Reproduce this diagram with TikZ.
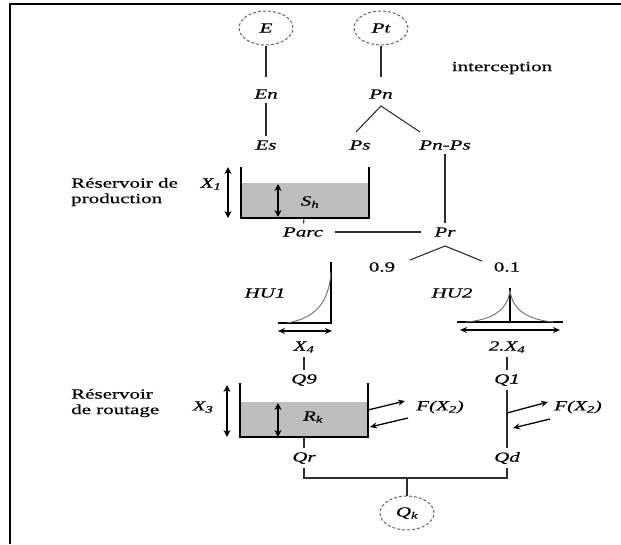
\documentclass[tikz,border=0pt]{standalone}
\usepackage{fontspec}
\setmainfont{Liberation Serif}[FakeStretch=1.5,FakeBold=0.5]
\usetikzlibrary{shapes.geometric,arrows.meta}
\definecolor{resgray}{RGB}{190,190,190}
\definecolor{linecol}{RGB}{45,45,45}
\definecolor{curvecol}{RGB}{110,110,110}
\begin{document}
\begin{tikzpicture}[x=1pt,y=-1pt,
  lbl/.style={font=\itshape\fontsize{14}{16}\selectfont, inner sep=1pt, outer sep=3pt},
  rom/.style={font=\fontsize{14}{15}\selectfont, inner sep=1pt, outer sep=3pt},
  side/.style={font=\fontsize{14}{15.5}\selectfont, align=left, inner sep=0pt, anchor=west},
  conn/.style={draw=linecol, line width=1.1pt},
  wall/.style={draw=black, line width=1.4pt},
  dbl/.style={{Stealth[length=7pt,width=7pt]}-{Stealth[length=7pt,width=7pt]}, line width=1.8pt},
  dblh/.style={{Stealth[length=7pt,width=6pt]}-{Stealth[length=7pt,width=6pt]}, line width=1.4pt},
  flux/.style={-{Stealth[length=7pt,width=6pt]}, line width=1.3pt},
  oval/.style={ellipse, draw=black!60, dash pattern=on 3pt off 2pt, line width=1pt, minimum width=54pt, minimum height=34pt, inner sep=0pt, font=\itshape\fontsize{14}{15}\selectfont},
  hcurve/.style={draw=curvecol, line width=0.9pt}]

\useasboundingbox (0,0) rectangle (621,544);
\draw[line width=2pt] (10,544) -- (10,4) -- (621,4);

% top part
\node[oval] (E) at (266,28) {E};
\node[oval] (Pt) at (381,28) {Pt};
\node[rom] (interc) at (502,68) {interception};
\node[lbl] (En) at (266,94) {En};
\node[lbl] (Es) at (266,145) {Es};
\node[lbl] (Pn) at (381,94) {Pn};
\node[lbl] (Ps) at (360,145) {Ps};
\node[lbl] (PnPs) at (445,145) {Pn-Ps};
\draw[conn, shorten >=8pt] (E) -- (En);
\draw[conn, shorten >=8pt] (Pt) -- (Pn);
\draw[conn] (En) -- (Es);
\coordinate (pnf) at (381,106);
\coordinate (pnl) at (356,132);
\coordinate (pnr) at (420,132);
\draw[conn] (pnl) -- (pnf) -- (pnr);

% production reservoir
\fill[resgray] (241,183) rectangle (369,218);
\draw[wall] (241,167) -- (241,218) -- (369,218) -- (369,167);
\draw[dbl] (228,167) -- (228,218);
\draw[dbl] (278,184) -- (278,217);
\node[lbl] (X1) at (211,184) {X\textsubscript{1}};
\node[lbl] (Sh) at (310,202) {S\textsubscript{h}};
\node[side] (rp) at (71,192) {Réservoir de\\production};
\node[lbl] (Parc) at (303,232) {Parc};
\coordinate (pb) at (304,218);
\draw[conn] (pb) -- (Parc);
\node[lbl] (Pr) at (445,232) {Pr};
\draw[conn, shorten <=8pt, shorten >=10pt] (Parc) -- (Pr);
\draw[conn] (PnPs) -- (Pr);
\coordinate (prf) at (445,246);
\coordinate (prl) at (410,260);
\coordinate (prr) at (482,261);
\draw[conn] (prl) -- (prf) -- (prr);
\node[rom] (n09) at (382,267) {0.9};
\node[rom] (n01) at (507,267) {0.1};

% HU1
\node[lbl] (HU1) at (265,293) {HU1};
\draw[wall] (331,262) -- (331,323) -- (278,323);
\draw[hcurve] (287,323) .. controls (316,318) and (329,302) .. (331,272);
\draw[dblh] (278,331) -- (332,331);
\node[lbl] (X4) at (304,347) {X\textsubscript{4}};

% HU2
\node[lbl] (HU2) at (452,293) {HU2};
\draw[wall] (457,322) -- (563,322);
\draw[wall] (510,288) -- (510,322);
\draw[hcurve] (510,290) .. controls (508,310) and (492,320) .. (466,322);
\draw[hcurve] (510,290) .. controls (512,310) and (528,320) .. (554,322);
\draw[dblh] (460,330) -- (560,330);
\node[lbl] (X42) at (507,347) {2.X\textsubscript{4}};

\node[lbl] (Q9) at (304,380) {Q9};
\node[lbl] (Q1) at (507,380) {Q1};
\draw[conn] (X4) -- (Q9);
\draw[conn] (X42) -- (Q1);

% routing reservoir
\fill[resgray] (240,402) rectangle (368,437);
\draw[wall] (240,383) -- (240,437) -- (368,437) -- (368,383);
\draw[dbl] (227,385) -- (227,437);
\draw[dbl] (278,403) -- (278,437);
\node[lbl] (X3) at (203,407) {X\textsubscript{3}};
\node[lbl] (Rk) at (313,417) {R\textsubscript{k}};
\node[side] (rr) at (71,403) {Réservoir\\de routage};
\node[lbl] (F1) at (440,407) {F(X\textsubscript{2})};
\draw[flux] (368,410) -- (405,401);
\draw[flux] (408,418) -- (370,427);

\node[lbl] (Qr) at (304,458) {Qr};
\coordinate (rb) at (304,437);
\draw[conn] (rb) -- (Qr);
\node[lbl] (Qd) at (507,458) {Qd};
\draw[conn] (Q1) -- (Qd);
\draw[flux] (507,413) -- (548,402);
\draw[flux] (550,419) -- (513,428);
\node[lbl] (F2) at (578,407) {F(X\textsubscript{2})};

% outlet
\node[oval] (Qk) at (407,513) {Q\textsubscript{k}};
\coordinate (jn) at (407,478);
\draw[conn] (Qr) |- (jn) -| (Qd);
\draw[conn] (jn) -- (Qk);
\end{tikzpicture}
\end{document}
